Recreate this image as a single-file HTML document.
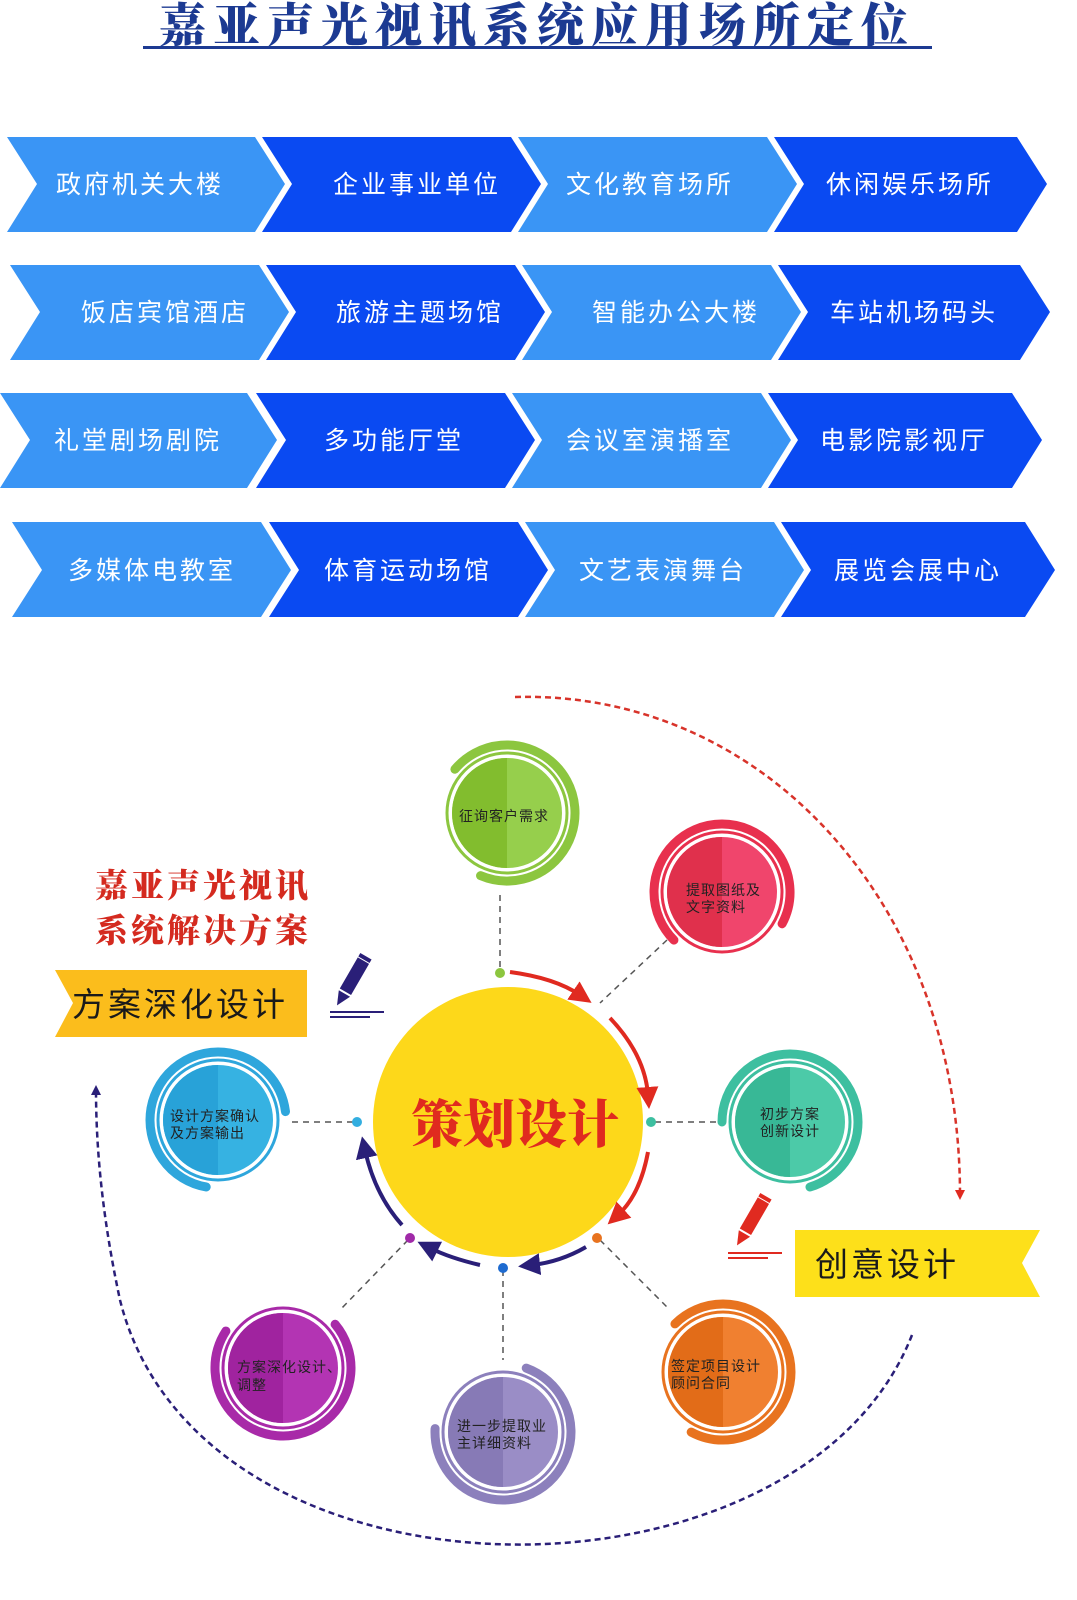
<!DOCTYPE html>
<html><head><meta charset="utf-8"><style>
html,body{margin:0;padding:0;background:#fff;}
svg{display:block;}
</style></head><body>
<svg width="1077" height="1600" viewBox="0 0 1077 1600" xmlns="http://www.w3.org/2000/svg">
<defs>
<marker id="ar" markerWidth="10" markerHeight="10" refX="5" refY="5" orient="auto" markerUnits="userSpaceOnUse" viewBox="0 0 10 10"><path d="M0,0 L10,5 L0,10 Z" fill="#e02a20"/></marker>
<marker id="an" markerWidth="10" markerHeight="10" refX="5" refY="5" orient="auto" markerUnits="userSpaceOnUse" viewBox="0 0 10 10"><path d="M0,0 L10,5 L0,10 Z" fill="#2a1f78"/></marker>
<marker id="arb" markerWidth="22" markerHeight="22" refX="8" refY="11" orient="auto" markerUnits="userSpaceOnUse" viewBox="0 0 22 22"><path d="M0,0 L22,11 L0,22 Z" fill="#e02a20"/></marker>
<marker id="anb" markerWidth="22" markerHeight="22" refX="8" refY="11" orient="auto" markerUnits="userSpaceOnUse" viewBox="0 0 22 22"><path d="M0,0 L22,11 L0,22 Z" fill="#2a1f78"/></marker>
</defs>

<!-- title -->
<text x="537" y="42" text-anchor="middle" font-family="'Noto Serif CJK SC',serif" font-weight="900" font-size="47" fill="#1c3a92" letter-spacing="7">嘉亚声光视讯系统应用场所定位</text>
<rect x="143" y="46" width="789" height="3" fill="#1c3a92"/>

<!-- chevrons -->
<g font-family="'Liberation Sans','Noto Sans CJK SC',sans-serif" font-size="25" fill="#fff" letter-spacing="3">
<polygon points="7,137 255,137 285,184 255,232 7,232 37,184" fill="#3a95f5"/>
<polygon points="262,137 511,137 541,184 511,232 262,232 292,184" fill="#0a4af2"/>
<polygon points="518,137 767,137 797,184 767,232 518,232 548,184" fill="#3a95f5"/>
<polygon points="774,137 1017,137 1047,184 1017,232 774,232 804,184" fill="#0a4af2"/>
<text x="140" y="193" text-anchor="middle" fill="#fff">政府机关大楼</text>
<text x="417" y="193" text-anchor="middle" fill="#fff">企业事业单位</text>
<text x="650" y="193" text-anchor="middle" fill="#fff">文化教育场所</text>
<text x="910" y="193" text-anchor="middle" fill="#fff">休闲娱乐场所</text>
<polygon points="10,265 259,265 289,312 259,360 10,360 40,312" fill="#3a95f5"/>
<polygon points="266,265 515,265 545,312 515,360 266,360 296,312" fill="#0a4af2"/>
<polygon points="522,265 771,265 801,312 771,360 522,360 552,312" fill="#3a95f5"/>
<polygon points="778,265 1020,265 1050,312 1020,360 778,360 808,312" fill="#0a4af2"/>
<text x="165" y="321" text-anchor="middle" fill="#fff">饭店宾馆酒店</text>
<text x="420" y="321" text-anchor="middle" fill="#fff">旅游主题场馆</text>
<text x="676" y="321" text-anchor="middle" fill="#fff">智能办公大楼</text>
<text x="914" y="321" text-anchor="middle" fill="#fff">车站机场码头</text>
<polygon points="0,393 247,393 277,440 247,488 0,488 30,440" fill="#3a95f5"/>
<polygon points="256,393 505,393 535,440 505,488 256,488 286,440" fill="#0a4af2"/>
<polygon points="512,393 761,393 791,440 761,488 512,488 542,440" fill="#3a95f5"/>
<polygon points="768,393 1012,393 1042,440 1012,488 768,488 798,440" fill="#0a4af2"/>
<text x="138" y="449" text-anchor="middle" fill="#fff">礼堂剧场剧院</text>
<text x="394" y="449" text-anchor="middle" fill="#fff">多功能厅堂</text>
<text x="650" y="449" text-anchor="middle" fill="#fff">会议室演播室</text>
<text x="904" y="449" text-anchor="middle" fill="#fff">电影院影视厅</text>
<polygon points="12,522 261,522 291,570 261,617 12,617 42,570" fill="#3a95f5"/>
<polygon points="269,522 518,522 548,570 518,617 269,617 299,570" fill="#0a4af2"/>
<polygon points="525,522 774,522 804,570 774,617 525,617 555,570" fill="#3a95f5"/>
<polygon points="781,522 1025,522 1055,570 1025,617 781,617 811,570" fill="#0a4af2"/>
<text x="152" y="579" text-anchor="middle" fill="#fff">多媒体电教室</text>
<text x="408" y="579" text-anchor="middle" fill="#fff">体育运动场馆</text>
<text x="663" y="579" text-anchor="middle" fill="#fff">文艺表演舞台</text>
<text x="918" y="579" text-anchor="middle" fill="#fff">展览会展中心</text>
</g>

<!-- big dashed arcs -->
<path d="M515,697 C760,690 960,900 960,1195" fill="none" stroke="#d8332a" stroke-width="2.5" stroke-dasharray="6,4" marker-end="url(#ar)"/>
<path d="M912,1335 C800,1620 200,1620 120,1300 C105,1230 96,1160 96,1090" fill="none" stroke="#2a1f78" stroke-width="2.5" stroke-dasharray="6,4" marker-end="url(#an)"/>

<!-- red heading -->
<g font-family="'Noto Serif CJK SC',serif" font-weight="900" font-size="33" fill="#d42a1f" letter-spacing="3">
<text x="95" y="897">嘉亚声光视讯</text>
<text x="95" y="942">系统解决方案</text>
</g>

<!-- banners -->
<polygon points="55,970 307,970 307,1037 55,1037 73,1003" fill="#fbbd1c"/>
<text x="72" y="1016" font-family="'Noto Sans CJK SC',sans-serif" font-size="33" fill="#1a1a1a" letter-spacing="3">方案深化设计</text>
<polygon points="795,1230 1040,1230 1022,1263 1040,1297 795,1297" fill="#fde01a"/>
<text x="815" y="1276" font-family="'Noto Sans CJK SC',sans-serif" font-size="33" fill="#1a1a1a" letter-spacing="3">创意设计</text>

<!-- pens -->
<g transform="translate(343,995) rotate(30)">
<rect x="-6" y="-40" width="13" height="36" fill="#2a1f78"/>
<rect x="-6" y="-45" width="13" height="4" fill="#2a1f78"/>
<polygon points="-6,-2 7,-2 0,12" fill="#2a1f78"/>
</g>
<rect x="330" y="1011" width="54" height="2" fill="#2a1f78"/>
<rect x="330" y="1016" width="40" height="2" fill="#2a1f78"/>
<g transform="translate(743,1235) rotate(30)">
<rect x="-6" y="-40" width="13" height="36" fill="#e02a20"/>
<rect x="-6" y="-45" width="13" height="4" fill="#e02a20"/>
<polygon points="-6,-2 7,-2 0,12" fill="#e02a20"/>
</g>
<rect x="728" y="1252" width="54" height="2" fill="#e02a20"/>
<rect x="728" y="1257" width="40" height="2" fill="#e02a20"/>

<!-- dashed connectors -->
<g stroke="#555" stroke-width="1.5" stroke-dasharray="6,5" fill="none">
<line x1="500" y1="895" x2="500" y2="968"/>
<line x1="667" y1="940" x2="600" y2="1003"/>
<line x1="655" y1="1122" x2="722" y2="1122"/>
<line x1="600" y1="1240" x2="670" y2="1310"/>
<line x1="503" y1="1270" x2="503" y2="1360"/>
<line x1="408" y1="1240" x2="340" y2="1310"/>
<line x1="292" y1="1122" x2="355" y2="1122"/>
</g>

<!-- center circle -->
<circle cx="508" cy="1122" r="135" fill="#fdd81a"/>
<text x="515" y="1143" text-anchor="middle" font-family="'Noto Serif CJK SC',serif" font-weight="900" font-size="52" fill="#e02a1f">策划设计</text>

<!-- arrows around center -->
<g fill="none" stroke-width="4">
<path d="M510,972 Q555,978 580,995" stroke="#e02a20" marker-end="url(#arb)"/>
<path d="M610,1018 Q645,1055 648,1095" stroke="#e02a20" marker-end="url(#arb)"/>
<path d="M648,1152 Q640,1195 618,1215" stroke="#e02a20" marker-end="url(#arb)"/>
<path d="M586,1247 Q560,1262 532,1265" stroke="#2a1f78" marker-end="url(#anb)"/>
<path d="M480,1265 Q450,1258 430,1248" stroke="#2a1f78" marker-end="url(#anb)"/>
<path d="M402,1225 Q375,1195 365,1150" stroke="#2a1f78" marker-end="url(#anb)"/>
</g>

<!-- small dots -->
<circle cx="500" cy="973" r="5" fill="#8cc63f"/>
<circle cx="651" cy="1122" r="5" fill="#3dbfa0"/>
<circle cx="597" cy="1238" r="5" fill="#e8731f"/>
<circle cx="503" cy="1268" r="5" fill="#1e6bd0"/>
<circle cx="410" cy="1238" r="5" fill="#a02aa8"/>
<circle cx="357" cy="1122" r="5" fill="#33aee0"/>

<!-- nodes -->
<g font-family="'Liberation Sans','Noto Sans CJK SC',sans-serif" font-size="14" fill="#222" letter-spacing="1">
<g transform="translate(507,813)">
<circle r="68" fill="none" stroke="#8cc63f" stroke-width="9" stroke-dasharray="300 130" stroke-linecap="round" transform="rotate(-140)"/>
<circle r="60" fill="none" stroke="#8cc63f" stroke-width="3"/>
<circle r="55" fill="#96cf4c"/><path d="M0,-55 A55,55 0 0 0 0,55Z" fill="#82bd2e"/>
<text x="-3" y="8" text-anchor="middle">征询客户需求</text>
</g>
<g transform="translate(722,892)">
<circle r="68" fill="none" stroke="#e8304e" stroke-width="9" stroke-dasharray="300 130" stroke-linecap="round" transform="rotate(135)"/>
<circle r="60" fill="none" stroke="#e8304e" stroke-width="3"/>
<circle r="55" fill="#f0456c"/><path d="M0,-55 A55,55 0 0 0 0,55Z" fill="#e0304c"/>
<text x="-36" y="3">提取图纸及</text><text x="-36" y="20">文字资料</text>
</g>
<g transform="translate(790,1122)">
<circle r="68" fill="none" stroke="#3dbfa0" stroke-width="9" stroke-dasharray="300 130" stroke-linecap="round" transform="rotate(180)"/>
<circle r="60" fill="none" stroke="#3dbfa0" stroke-width="3"/>
<circle r="55" fill="#4ccaa8"/><path d="M0,-55 A55,55 0 0 0 0,55Z" fill="#38b896"/>
<text x="-30" y="-3">初步方案</text><text x="-30" y="14">创新设计</text>
</g>
<g transform="translate(723,1372)">
<circle r="68" fill="none" stroke="#e8731f" stroke-width="9" stroke-dasharray="300 130" stroke-linecap="round" transform="rotate(-135)"/>
<circle r="60" fill="none" stroke="#e8731f" stroke-width="3"/>
<circle r="55" fill="#f08030"/><path d="M0,-55 A55,55 0 0 0 0,55Z" fill="#e26c18"/>
<text x="-52" y="-1">签定项目设计</text><text x="-52" y="16">顾问合同</text>
</g>
<g transform="translate(503,1432)">
<circle r="68" fill="none" stroke="#8c80bc" stroke-width="9" stroke-dasharray="300 130" stroke-linecap="round" transform="rotate(-70)"/>
<circle r="60" fill="none" stroke="#8c80bc" stroke-width="3"/>
<circle r="55" fill="#9a8dc6"/><path d="M0,-55 A55,55 0 0 0 0,55Z" fill="#877ab6"/>
<text x="-46" y="-1">进一步提取业</text><text x="-46" y="16">主详细资料</text>
</g>
<g transform="translate(283,1368)">
<circle r="68" fill="none" stroke="#a82aa8" stroke-width="9" stroke-dasharray="300 130" stroke-linecap="round" transform="rotate(-40)"/>
<circle r="60" fill="none" stroke="#a82aa8" stroke-width="3"/>
<circle r="55" fill="#b334b3"/><path d="M0,-55 A55,55 0 0 0 0,55Z" fill="#a0239f"/>
<text x="-46" y="4">方案深化设计、</text><text x="-46" y="22">调整</text>
</g>
<g transform="translate(218,1120)">
<circle r="68" fill="none" stroke="#2ea6dc" stroke-width="9" stroke-dasharray="300 130" stroke-linecap="round" transform="rotate(100)"/>
<circle r="60" fill="none" stroke="#2ea6dc" stroke-width="3"/>
<circle r="55" fill="#36b2e2"/><path d="M0,-55 A55,55 0 0 0 0,55Z" fill="#28a2d8"/>
<text x="-48" y="1">设计方案确认</text><text x="-48" y="18">及方案输出</text>
</g>
</g>
</svg>
</body></html>
